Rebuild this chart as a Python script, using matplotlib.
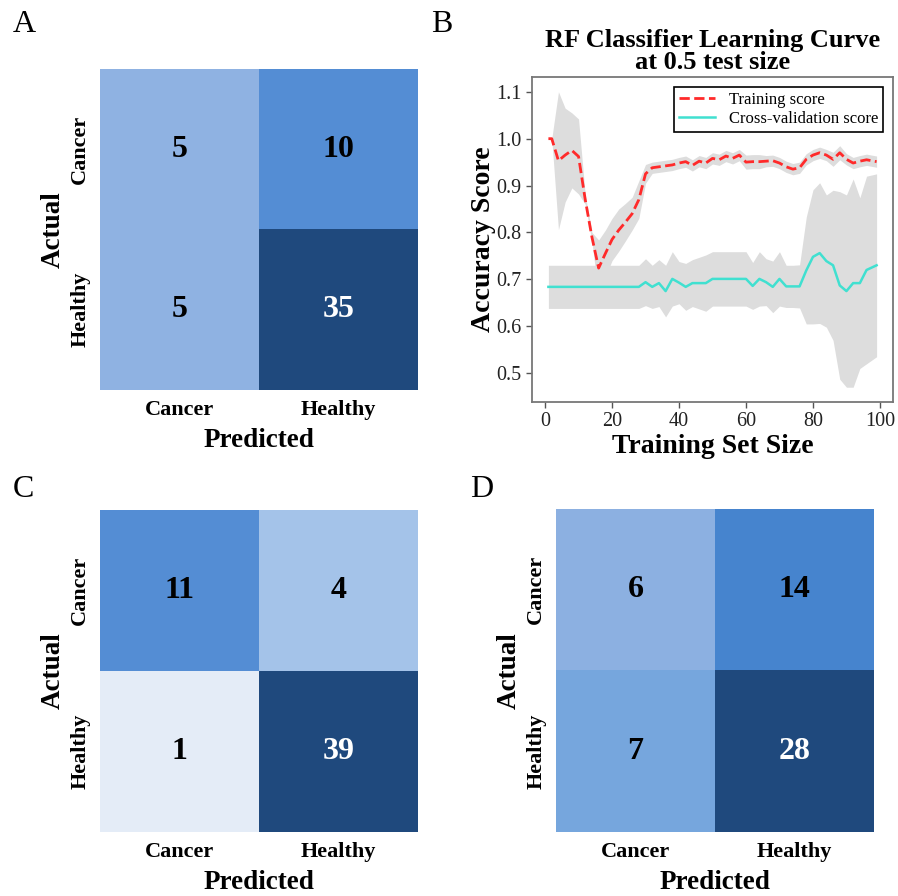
import numpy as np
import matplotlib
matplotlib.use("Agg")
import matplotlib.pyplot as plt
from matplotlib.colors import LinearSegmentedColormap, Normalize, to_rgb

plt.rcParams['font.family'] = ['Liberation Serif', 'DejaVu Serif']

# ---------------- data ----------------
classes = ["Cancer", "Healthy"]
cm_A = [[5, 10], [5, 35]]
cm_C = [[11, 4], [1, 39]]
cm_D = [[6, 14], [7, 28]]

train_sizes = [1, 2, 4, 6, 8, 10, 12, 14, 16, 18, 20, 22, 24, 26, 28, 30, 32, 34, 36, 38,
               40, 42, 44, 46, 48, 50, 52, 54, 56, 58, 60, 62, 64, 66, 68, 70, 72, 74, 76, 78,
               80, 82, 84, 86, 88, 90, 92, 94, 96, 99]
train_mean = [1.000, 1.000, 0.953, 0.965, 0.975, 0.962, 0.870, 0.790, 0.724, 0.755,
              0.785, 0.805, 0.822, 0.840, 0.870, 0.925, 0.938, 0.940, 0.942, 0.944,
              0.948, 0.951, 0.943, 0.952, 0.948, 0.958, 0.955, 0.963, 0.958, 0.965,
              0.950, 0.951, 0.951, 0.952, 0.953, 0.948, 0.940, 0.935, 0.938, 0.956,
              0.965, 0.970, 0.965, 0.956, 0.970, 0.956, 0.948, 0.952, 0.955, 0.951]
train_std = [0.000, 0.000, 0.147, 0.100, 0.080, 0.080, 0.010, 0.010, 0.060, 0.050,
             0.045, 0.045, 0.040, 0.035, 0.040, 0.020, 0.012, 0.012, 0.012, 0.012,
             0.012, 0.012, 0.012, 0.012, 0.012, 0.012, 0.012, 0.012, 0.012, 0.012,
             0.015, 0.015, 0.015, 0.012, 0.012, 0.012, 0.012, 0.012, 0.012, 0.012,
             0.012, 0.012, 0.012, 0.015, 0.015, 0.012, 0.012, 0.012, 0.012, 0.012]
cv_mean = [0.684, 0.684, 0.684, 0.684, 0.684, 0.684, 0.684, 0.684, 0.684, 0.684,
           0.684, 0.684, 0.684, 0.684, 0.684, 0.694, 0.684, 0.692, 0.675, 0.701,
           0.693, 0.684, 0.692, 0.692, 0.692, 0.701, 0.701, 0.701, 0.701, 0.701,
           0.701, 0.686, 0.701, 0.694, 0.684, 0.701, 0.685, 0.685, 0.685, 0.719,
           0.748, 0.756, 0.739, 0.730, 0.687, 0.675, 0.692, 0.692, 0.720, 0.730]
cv_std = [0.046, 0.046, 0.046, 0.046, 0.046, 0.046, 0.046, 0.046, 0.046, 0.046,
          0.046, 0.046, 0.046, 0.046, 0.046, 0.050, 0.046, 0.050, 0.055, 0.058,
          0.045, 0.050, 0.050, 0.055, 0.060, 0.058, 0.058, 0.058, 0.058, 0.058,
          0.058, 0.050, 0.058, 0.050, 0.055, 0.058, 0.045, 0.045, 0.046, 0.114,
          0.143, 0.150, 0.141, 0.160, 0.200, 0.205, 0.222, 0.182, 0.200, 0.195]

# ---------------- style ----------------
W, H = 898, 896
fig = plt.figure(figsize=(W / 100, H / 100), dpi=100)

def px_axes(left, top, right, bottom):
    return fig.add_axes([left / W, 1 - bottom / H, (right - left) / W, (bottom - top) / H])

cmap = LinearSegmentedColormap.from_list("cm_blues", [
    (0.0, '#eef3fa'), (0.026, '#e4ecf7'), (0.10, '#a6c4ea'), (0.14, '#90b3e3'),
    (0.21, '#8db1e2'), (0.25, '#78a7de'), (0.28, '#558ed5'), (0.5, '#4785cf'),
    (1.0, '#1f497d')])

def heat(ax, cm):
    data = np.array(cm)
    norm = Normalize(0, data.max())
    ax.imshow(data, cmap=cmap, norm=norm, aspect='auto', interpolation='nearest')
    for i in range(data.shape[0]):
        for j in range(data.shape[1]):
            r, g, b = to_rgb(cmap(norm(data[i, j])))
            lum = 0.299 * r + 0.587 * g + 0.114 * b
            ax.text(j, i, str(data[i, j]), ha='center', va='center',
                    fontsize=23, fontweight='bold', color='white' if lum < 0.3 else 'black')
    ax.set_xticks(range(len(classes)))
    ax.set_xticklabels(classes, fontsize=16, fontweight='bold')
    ax.set_yticks(range(len(classes)))
    ax.set_yticklabels(classes, fontsize=16, fontweight='bold', rotation=90, va='center')
    ax.tick_params(length=0, pad=7)
    for s in ax.spines.values():
        s.set_visible(False)
    ax.set_xlabel("Predicted", fontsize=19.5, fontweight='bold', labelpad=6)
    ax.set_ylabel("Actual", fontsize=19.5, fontweight='bold', labelpad=3)

axA = px_axes(100, 69, 418, 390)
heat(axA, cm_A)
axC = px_axes(100, 510, 418, 832)
heat(axC, cm_C)
axD = px_axes(556, 509, 874, 832)
heat(axD, cm_D)

# ---------------- learning curve ----------------
axB = px_axes(532, 77, 893, 402)
x = np.array(train_sizes)
tm, ts = np.array(train_mean), np.array(train_std)
cvm, cvs = np.array(cv_mean), np.array(cv_std)
axB.fill_between(x, tm - ts, tm + ts, color='#DDDDDD', lw=0)
axB.fill_between(x, cvm - cvs, cvm + cvs, color='#DDDDDD', lw=0)
axB.plot(x, tm, '--', color='#ff2a2a', lw=2.0, label='Training score')
axB.plot(x, cvm, '-', color='#40e0d0', lw=1.8, label='Cross-validation score')
axB.set_xlim(-3.9, 103.9)
axB.set_ylim(0.4385, 1.1315)
axB.set_xticks([0, 20, 40, 60, 80, 100])
axB.set_yticks([0.5, 0.6, 0.7, 0.8, 0.9, 1.0, 1.1])
axB.tick_params(labelsize=14.5, length=4, width=1, color='#555555', labelcolor='#222222')
for s in axB.spines.values():
    s.set_color('#777777')
    s.set_linewidth(1.3)
axB.set_xlabel("Training Set Size", fontsize=20, fontweight='bold', labelpad=2)
axB.set_ylabel("Accuracy Score", fontsize=20, fontweight='bold', labelpad=0.5)
axB.set_title("RF Classifier Learning Curve\nat 0.5 test size", fontsize=19,
              fontweight='bold', linespacing=0.95, pad=6)
leg = axB.legend(loc='upper right', fontsize=12, fancybox=False, framealpha=1,
                 edgecolor='black', borderpad=0.3, labelspacing=0.2, handlelength=2.2,
                 borderaxespad=0.6)
leg.get_frame().set_linewidth(1.2)

# panel letters
fig.text(13 / W, 1 - 32 / H, "A", fontsize=23)
fig.text(431 / W, 1 - 32 / H, "B", fontsize=23)
fig.text(13 / W, 1 - 497 / H, "C", fontsize=23)
fig.text(470 / W, 1 - 497 / H, "D", fontsize=23)

fig.savefig("out.png", dpi=100)
